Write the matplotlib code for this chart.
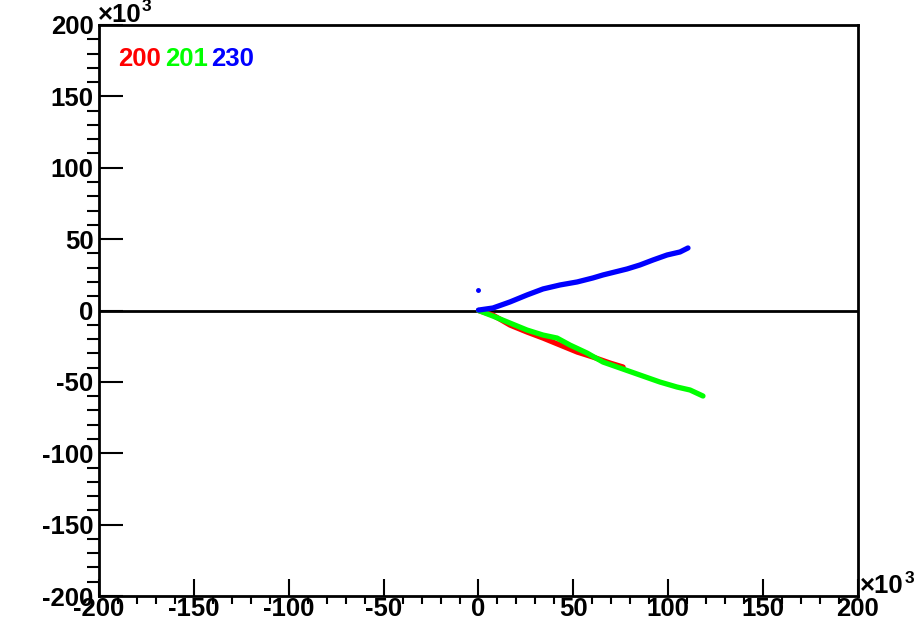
import matplotlib.pyplot as plt
from matplotlib.ticker import MultipleLocator
import numpy as np

plt.rcParams['font.family'] = ['Liberation Sans', 'DejaVu Sans']
plt.rcParams['font.weight'] = 'bold'
plt.rcParams['axes.unicode_minus'] = False

# values in units of 10^3
x200 = [0, 7.6, 16.6, 25.6, 34.0, 43.0, 52.0, 60.3, 69.3, 76.2]
y200 = [0, -3.2, -10.2, -15.1, -19.3, -24.2, -29.1, -32.6, -36.8, -39.6]

x201 = [0, 7.6, 16.6, 25.6, 34.0, 41.4, 48.2, 57.2, 65.6, 74.6, 85.1, 95.6, 104.6, 111.5, 118.3]
y201 = [0, -3.9, -8.8, -13.7, -17.2, -19.3, -24.2, -29.8, -36.1, -40.3, -45.2, -50.1, -53.6, -55.7, -59.9]

x230 = [0, 7.6, 16.6, 25.6, 34.0, 43.0, 52.0, 60.3, 65.6, 78.3, 85.1, 92.0, 99.4, 106.2, 110.4]
y230 = [0.3, 1.75, 6.0, 10.9, 15.1, 17.9, 20.0, 22.8, 24.9, 29.1, 31.9, 35.4, 38.9, 41.0, 43.8]
x230_stray = [0]
y230_stray = [14.4]

fs = 18.5

fig = plt.figure(figsize=(9.16, 6.25), dpi=100)
ax = fig.add_axes([99/916, 29/625, 759/916, 571/625])

ax.axhline(0, color='black', lw=2)
ax.plot(x200, y200, color='#ff0000', lw=3.8, solid_capstyle='round')
ax.plot(x201, y201, color='#00ff00', lw=3.8, solid_capstyle='round')
ax.plot(x230, y230, color='#0000ff', lw=3.8, solid_capstyle='round')
ax.plot(x230_stray, y230_stray, 'o', color='#0000ff', ms=2.5)

ax.set_xlim(-200, 200)
ax.set_ylim(-200, 200)
ax.xaxis.set_major_locator(MultipleLocator(50))
ax.xaxis.set_minor_locator(MultipleLocator(10))
ax.yaxis.set_major_locator(MultipleLocator(50))
ax.yaxis.set_minor_locator(MultipleLocator(10))
ax.tick_params(direction='in', width=1.5, labelsize=fs, top=False, right=False)
ax.tick_params(axis='x', which='major', length=12, pad=1)
ax.tick_params(axis='x', which='minor', length=6, width=1.5)
ax.tick_params(axis='y', which='major', length=17, pad=4)
ax.tick_params(axis='y', which='minor', length=8.5, width=1.5)
for s in ax.spines.values():
    s.set_linewidth(2)
for lab in ax.get_xticklabels() + ax.get_yticklabels():
    lab.set_fontweight('bold')

ax.text(-0.002, 0.997, '×10', transform=ax.transAxes, fontsize=fs,
        fontweight='bold', ha='left', va='bottom')
ax.text(0.056, 1.02, '3', transform=ax.transAxes, fontsize=12.5,
        fontweight='bold', ha='left', va='bottom')
ax.text(1.003, -0.004, '×10', transform=ax.transAxes, fontsize=fs,
        fontweight='bold', ha='left', va='bottom')
ax.text(1.061, 0.018, '3', transform=ax.transAxes, fontsize=12.5,
        fontweight='bold', ha='left', va='bottom')

ax.text(0.025, 0.94, '200', color='#ff0000', transform=ax.transAxes, fontsize=fs, fontweight='bold', va='center')
ax.text(0.087, 0.94, '201', color='#00ff00', transform=ax.transAxes, fontsize=fs, fontweight='bold', va='center')
ax.text(0.148, 0.94, '230', color='#0000ff', transform=ax.transAxes, fontsize=fs, fontweight='bold', va='center')

fig.savefig('out.png', dpi=100)
